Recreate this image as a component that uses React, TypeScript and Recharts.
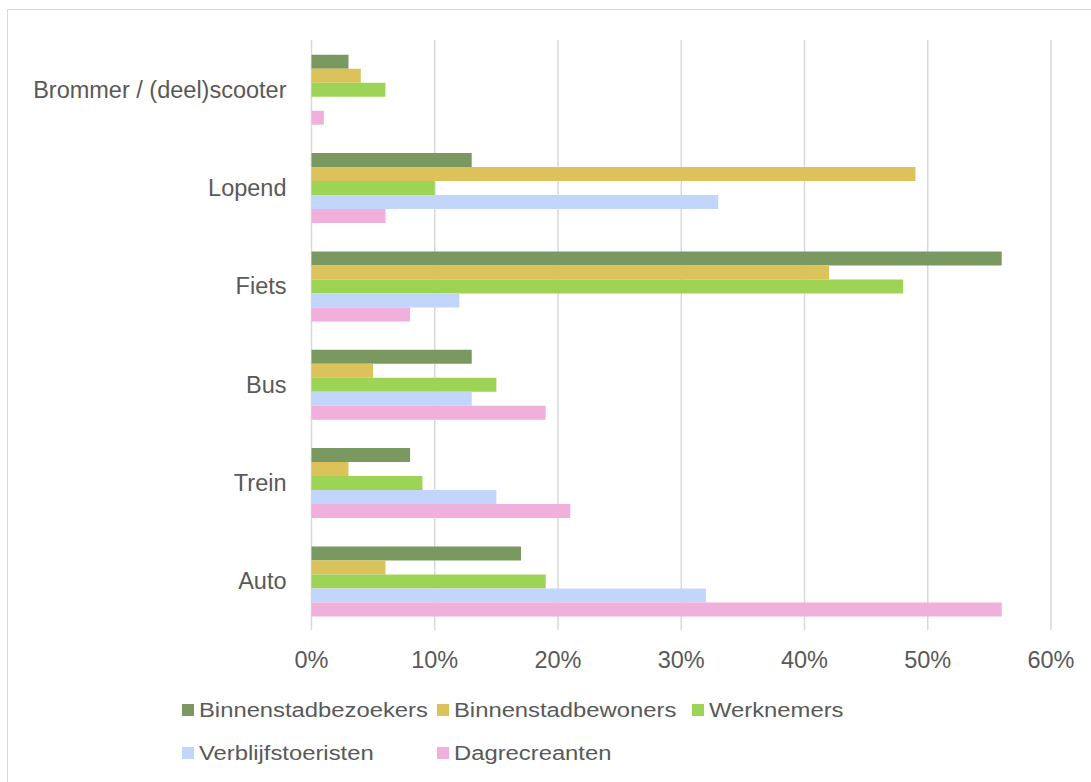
import { BarChart, Bar, XAxis, YAxis, CartesianGrid } from "recharts"

const categories = ["Brommer / (deel)scooter", "Lopend", "Fiets", "Bus", "Trein", "Auto"]
const binnenstadbezoekers = [3, 13, 56, 13, 8, 17]
const binnenstadbewoners = [4, 49, 42, 5, 3, 6]
const werknemers = [6, 10, 48, 15, 9, 19]
const verblijfstoeristen = [0, 33, 12, 13, 15, 32]
const dagrecreanten = [1, 6, 8, 19, 21, 56]
const xTicks = [0, 10, 20, 30, 40, 50, 60]

const series = [
  { key: "bezoekers", name: "Binnenstadbezoekers", values: binnenstadbezoekers, color: "#7a9961" },
  { key: "bewoners", name: "Binnenstadbewoners", values: binnenstadbewoners, color: "#dcc25a" },
  { key: "werknemers", name: "Werknemers", values: werknemers, color: "#9dd456" },
  { key: "toeristen", name: "Verblijfstoeristen", values: verblijfstoeristen, color: "#c2d5fb" },
  { key: "dagrecreanten", name: "Dagrecreanten", values: dagrecreanten, color: "#f1b0dc" },
]

const data = categories.map((name, i) => {
  const row: any = { name }
  series.forEach((s) => (row[s.key] = s.values[i]))
  return row
})

const font = '"Liberation Sans", Arial, sans-serif'
const textColor = "#595959"

export default function App() {
  return (
    <div>
      <style>{"html,body{margin:0;overflow:hidden;background:#fff}"}</style>
      <div
        style={{
          position: "absolute",
          left: 7,
          top: 9,
          width: 1110,
          height: 800,
          border: "1.5px solid #d9d9d9",
        }}
      />
      <div style={{ position: "absolute", left: 0, top: 0 }}>
        <BarChart
          width={1091}
          height={700}
          data={data}
          layout="vertical"
          margin={{ top: 40, right: 40, left: 0, bottom: 20 }}
          barCategoryGap="15%"
          barGap={0}
        >
          <CartesianGrid horizontal={false} stroke="#d9d9d9" strokeWidth={1.5} />
          <XAxis
            type="number"
            domain={[0, 60]}
            ticks={xTicks}
            tickFormatter={(v) => `${v}%`}
            axisLine={false}
            tickLine={false}
            tickSize={6}
            tickMargin={15}
            height={50}
            tick={{ fill: textColor, fontSize: 23.5, fontFamily: font }}
          />
          <YAxis
            type="category"
            dataKey="name"
            width={311.5}
            axisLine={false}
            tickLine={false}
            tickSize={6}
            tickMargin={19}
            interval={0}
            tick={{ fill: textColor, fontSize: 23.5, fontFamily: font }}
          />
          {series.map((s) => (
            <Bar key={s.key} dataKey={s.key} name={s.name} fill={s.color} isAnimationActive={false} />
          ))}
        </BarChart>
      </div>
      <div
        style={{
          position: "absolute",
          left: 182,
          top: 698,
          width: 765,
          display: "flex",
          flexWrap: "wrap",
          rowGap: 19,
          fontFamily: font,
          color: textColor,
        }}
      >
        {series.map((s) => (
          <div key={s.key} style={{ width: 255, height: 24, display: "flex", alignItems: "center" }}>
            <span style={{ width: 12, height: 12, background: s.color, marginRight: 5, flex: "none" }} />
            <span
              style={{
                fontSize: 20,
                display: "inline-block",
                transform: "scaleX(1.19)",
                transformOrigin: "left center",
                whiteSpace: "nowrap",
              }}
            >
              {s.name}
            </span>
          </div>
        ))}
      </div>
    </div>
  )
}
